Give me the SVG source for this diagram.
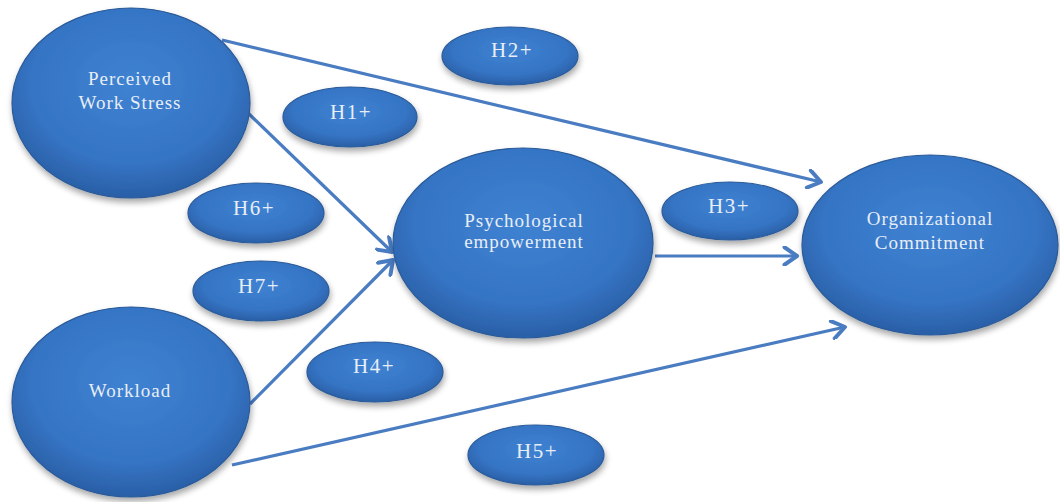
<svg xmlns="http://www.w3.org/2000/svg" width="1060" height="502" viewBox="0 0 1060 502">
  <defs>
    <radialGradient id="blueFill" cx="50%" cy="40%" r="60%">
      <stop offset="0%" stop-color="#3f82d2"/>
      <stop offset="70%" stop-color="#3574c4"/>
      <stop offset="100%" stop-color="#2a5fa6"/>
    </radialGradient>
    <filter id="shadow" x="-10%" y="-10%" width="125%" height="130%">
      <feGaussianBlur in="SourceAlpha" stdDeviation="3"/>
      <feOffset dx="1" dy="4" result="b"/>
      <feComponentTransfer><feFuncA type="linear" slope="0.35"/></feComponentTransfer>
      <feMerge><feMergeNode/><feMergeNode in="SourceGraphic"/></feMerge>
    </filter>
    <marker id="chev" markerUnits="userSpaceOnUse" markerWidth="20" markerHeight="20" refX="12" refY="8" orient="auto" viewBox="0 0 16 16">
      <path d="M2,1 L12,8 L2,15" fill="none" stroke="#4a7cc2" stroke-width="3.2" stroke-linecap="round" stroke-linejoin="round"/>
    </marker>
  </defs>
  <style>
    .node { fill: url(#blueFill); stroke: #2a5a98; stroke-width: 1.2; filter: url(#shadow); }
    .big { font-family: "Liberation Serif", "DejaVu Serif", serif; font-size: 19px; letter-spacing: 1px; fill: #e8eef6; text-anchor: middle; }
    .small { font-family: "Liberation Serif", "DejaVu Serif", serif; font-size: 21px; letter-spacing: 1.5px; fill: #e8eef6; text-anchor: middle; }
    .conn { stroke: #4a7cc2; stroke-width: 3.2; fill: none; marker-end: url(#chev); }
  </style>
  <rect width="1060" height="502" fill="#ffffff"/>

  <g id="connectors">
    <line class="conn" x1="222" y1="40" x2="821" y2="182"/>
    <line class="conn" x1="248" y1="113" x2="392" y2="252"/>
    <line class="conn" x1="250" y1="404" x2="393" y2="260"/>
    <line class="conn" x1="655" y1="256" x2="797" y2="256"/>
    <line class="conn" x1="232" y1="465" x2="845" y2="327"/>
  </g>

  <g id="node-pws">
    <ellipse class="node" cx="131" cy="103" rx="119" ry="95"/>
    <text class="big" x="130" y="85">Perceived</text>
    <text class="big" x="130" y="109">Work Stress</text>
  </g>
  <g id="node-workload">
    <ellipse class="node" cx="131" cy="402" rx="119" ry="95"/>
    <text class="big" x="130" y="397">Workload</text>
  </g>
  <g id="node-pe">
    <ellipse class="node" cx="523" cy="243" rx="130" ry="95"/>
    <text class="big" x="524" y="227">Psychological</text>
    <text class="big" x="524" y="248">empowerment</text>
  </g>
  <g id="node-oc">
    <ellipse class="node" cx="930" cy="245" rx="128" ry="90"/>
    <text class="big" x="930" y="225">Organizational</text>
    <text class="big" x="930" y="249">Commitment</text>
  </g>

  <g id="h2">
    <ellipse class="node" cx="510" cy="56" rx="68" ry="29"/>
    <text class="small" x="512" y="57">H2+</text>
  </g>
  <g id="h1">
    <ellipse class="node" cx="350" cy="117" rx="67" ry="30"/>
    <text class="small" x="351" y="119">H1+</text>
  </g>
  <g id="h6">
    <ellipse class="node" cx="256" cy="213" rx="68" ry="30"/>
    <text class="small" x="254" y="215">H6+</text>
  </g>
  <g id="h7">
    <ellipse class="node" cx="261" cy="291" rx="68" ry="30"/>
    <text class="small" x="259" y="293">H7+</text>
  </g>
  <g id="h3">
    <ellipse class="node" cx="730" cy="211" rx="68" ry="29"/>
    <text class="small" x="729" y="213">H3+</text>
  </g>
  <g id="h4">
    <ellipse class="node" cx="375" cy="372" rx="68" ry="30"/>
    <text class="small" x="374" y="373">H4+</text>
  </g>
  <g id="h5">
    <ellipse class="node" cx="536" cy="455" rx="68" ry="30"/>
    <text class="small" x="537" y="458">H5+</text>
  </g>
</svg>
